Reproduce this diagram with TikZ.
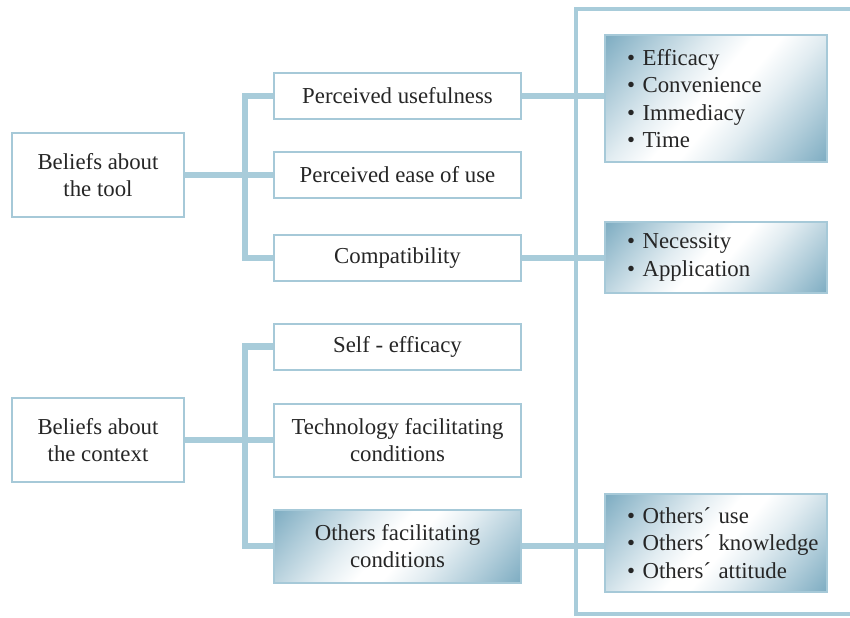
\documentclass[tikz,border=0pt]{standalone}
\usepackage{fontspec}
\setmainfont{Liberation Serif}
\usepackage{tikz}
\usetikzlibrary{positioning, shadings}

\definecolor{linkblue}{RGB}{168,204,218}
\definecolor{edgeblue}{RGB}{166,201,216}
\definecolor{steelshade}{RGB}{122,170,192}
\colorlet{steelmid}{steelshade!60!white}
\colorlet{steelpale}{steelshade!22!white}
\pgfdeclarehorizontalshading{steelglow}{100bp}{color(0bp)=(steelshade); color(14bp)=(steelshade); color(26bp)=(steelmid); color(38bp)=(steelpale); color(47bp)=(white); color(53bp)=(white); color(62bp)=(steelpale); color(74bp)=(steelmid); color(86bp)=(steelshade); color(100bp)=(steelshade)}
\newcommand{\listitem}[1]{\mbox{\textbullet~#1}}

\begin{document}
\begin{tikzpicture}[x=0.5pt,y=-0.5pt]
  \tikzstyle{every node}=[font=\fontsize{11.4}{13.75}\selectfont, text=black!85]
  \tikzstyle{box}=[draw=edgeblue, line width=1pt, fill=white, inner sep=0pt, align=center]
  \tikzstyle{beliefbox}=[box, minimum width=86pt, minimum height=42pt]
  \tikzstyle{factorbox}=[box, minimum width=123.5pt, minimum height=23pt]
  \tikzstyle{glowbox}=[shading=steelglow, shading angle=-40]
  \tikzstyle{listbox}=[box, glowbox, text width=89pt, inner xsep=11pt, align=left]
  \tikzstyle{link}=[draw=linkblue, line width=3.4pt]

  \useasboundingbox (0,0) rectangle (850,617);

  % outer frame on the right
  \draw[draw=linkblue, line width=2.3pt] (850,9) -- (576,9) -- (576,614) -- (850,614);

  % beliefs about the tool
  \node[beliefbox] (tool)   at (98,175)    {Beliefs about\\the tool};
  \node[factorbox] (useful) at (397.5,96)  {Perceived usefulness};
  \node[factorbox] (ease)   at (397.5,175) {Perceived ease of use};
  \node[factorbox] (compat) at (397.5,258) {Compatibility};

  % beliefs about the context
  \node[beliefbox] (context) at (98,440)    {Beliefs about\\the context};
  \node[factorbox] (selfeff) at (397.5,346.5) {Self - efficacy};
  \node[factorbox, minimum height=36.5pt] (tech)   at (397.5,440) {Technology facilitating\\conditions};
  \node[factorbox, glowbox, minimum height=36.5pt] (others) at (397.5,546) {Others facilitating\\conditions};

  % lists
  \node[listbox, minimum height=63.5pt] (effic)  at (716,98.5) {\listitem{Efficacy}\\\listitem{Convenience}\\\listitem{Immediacy}\\\listitem{Time}};
  \node[listbox, minimum height=35.5pt] (necess) at (716,257.5) {\listitem{Necessity}\\\listitem{Application}};
  \node[listbox, minimum height=49pt]   (othlist) at (716,543) {\listitem{Others´ use}\\\listitem{Others´ knowledge}\\\listitem{Others´ attitude}};

  \coordinate (tooltrunk) at (245,175);
  \coordinate (ctxtrunk)  at (245,440);

  \path[link]
  (useful.west) -| (tooltrunk) |- (compat.west)
  (tool.east) -- (tool.east -| ease.west)
  (selfeff.west) -| (ctxtrunk) |- (others.west)
  (context.east) -- (context.east -| tech.west)
  (useful.east) -- (useful.east -| effic.west)
  (compat.east) -- (compat.east -| necess.west)
  (others.east) -- (others.east -| othlist.west)
  ;
\end{tikzpicture}
\end{document}
